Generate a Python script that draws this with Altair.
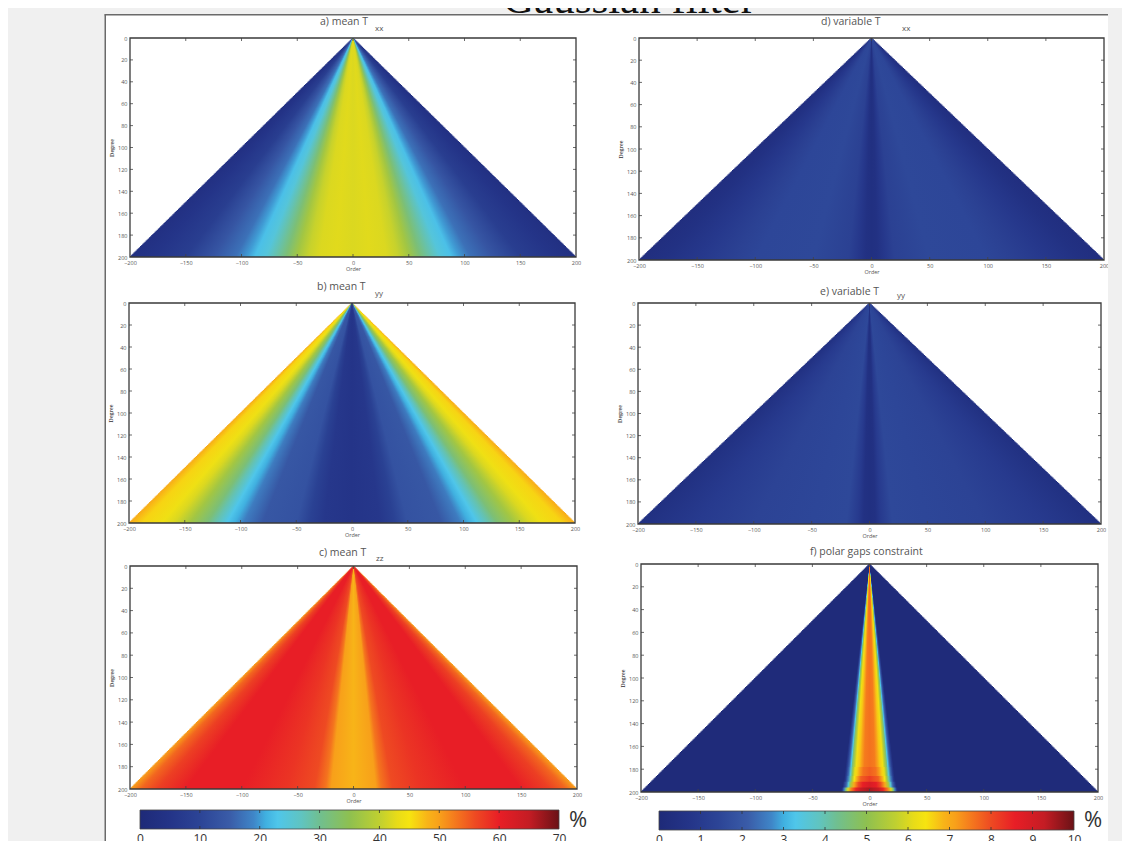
import altair as alt
import pandas as pd

# ---------- values ----------
X_TICKS = [-200, -150, -100, -50, 0, 50, 100, 150, 200]
Y_TICKS = list(range(0, 201, 20))
DEGREES = list(range(200))

# colour bar: value (on 0-70 bar) -> colour
CB_VALUES = [0, 5, 10, 15, 19, 21, 23, 27, 30, 35, 40, 43, 45, 48, 50, 53, 56, 60, 65, 70]
CB_COLORS = ["#1e2a78", "#243488", "#2c4496", "#3a5ca8", "#3f86c8", "#40b0e0", "#4fc6ea", "#60c4c0",
             "#70bf90", "#8ec050", "#c0d030", "#e8dc18", "#f6e410", "#f8b418", "#f8a01a", "#f4741e",
             "#ee4a22", "#e81e26", "#c41c24", "#6a1216"]

# profiles: |order| at degree 200 -> value in %
A_ORD = [0, 15, 30, 40, 50, 60, 70, 78, 88, 95, 105, 125, 150, 180, 200]
A_VAL = [42, 42.5, 42, 40.5, 37, 32, 28, 24.5, 22.5, 20, 17, 13.5, 8, 5, 3]
B_ORD = [0, 25, 38, 50, 80, 97, 105, 112, 122, 130, 145, 160, 170, 188, 200]
B_VAL = [5, 6, 9, 13, 14, 18, 21, 23, 28, 32, 37, 42, 44, 46, 49]
C_ORD = [0, 10, 20, 25, 35, 60, 100, 150, 175, 190, 200]
C_VAL = [48, 49, 50, 53, 56, 58, 60, 60, 57, 54, 50]
D_ORD = [0, 5, 12, 20, 50, 100, 120, 150, 180, 200]
D_VAL = [0.4, 0.5, 0.9, 1.3, 1.55, 1.5, 1.3, 0.9, 0.5, 0.3]
E_ORD = [0, 5, 10, 20, 50, 100, 150, 200]
E_VAL = [0.4, 0.5, 1.0, 1.55, 1.5, 1.4, 1.0, 0.4]
F_ORD = [0, 5, 8, 10, 13, 15, 17, 18, 20, 22, 23.5, 200]
F_VAL = [7.6, 7.5, 7.1, 6.7, 6.3, 5.5, 4.5, 3.3, 2.2, 1.0, 0.1, 0.1]
F0_ORD = [0, 6, 9, 12, 14, 16, 18, 20, 22, 23.5, 200]
F0_VAL = [7.8, 7.6, 7.2, 6.6, 6.2, 5.2, 3.6, 2.3, 1.0, 0.1, 0.1]
F1_ORD = [0, 8, 11, 14, 16, 18, 20, 22, 23.5, 200]
F1_VAL = [8.2, 7.8, 7.2, 6.4, 5.4, 4.0, 2.5, 1.0, 0.1, 0.1]
F2_ORD = [0, 6, 10, 14, 17, 19, 21, 23, 24, 200]
F2_VAL = [8.9, 8.6, 8.0, 7.0, 5.4, 3.6, 2.2, 1.0, 0.1, 0.1]
F3_ORD = [0, 8, 12, 16, 19, 21, 22.5, 24, 25, 200]
F3_VAL = [9.5, 9.2, 8.5, 7.5, 6.0, 4.5, 2.5, 0.8, 0.1, 0.1]

BAR1_TICKS = [0, 10, 20, 30, 40, 50, 60, 70]
BAR2_TICKS = list(range(0, 11))

# ---------- helpers ----------
OX, OY = 8, 8
W, H = 1114, 833
GREY = "#f0f0f0"
DARK = "#444444"
TXT = "#555555"
one = pd.DataFrame({"a": [0]})


def hex2rgb(c):
    return [int(c[i:i + 2], 16) for i in (1, 3, 5)]


def colour(v):
    v = max(CB_VALUES[0], min(CB_VALUES[-1], v))
    for i in range(len(CB_VALUES) - 1):
        if v <= CB_VALUES[i + 1]:
            t = (v - CB_VALUES[i]) / (CB_VALUES[i + 1] - CB_VALUES[i])
            a, b = hex2rgb(CB_COLORS[i]), hex2rgb(CB_COLORS[i + 1])
            return "#%02x%02x%02x" % tuple(round(p + (q - p) * t) for p, q in zip(a, b))
    return CB_COLORS[-1]


def gradient(orders, values, k):
    pairs = [(-o, v) for o, v in zip(orders, values) if o > 0][::-1] + list(zip(orders, values))
    stops = [alt.GradientStop(offset=(o + 200) / 400, color=colour(v * k)) for o, v in pairs]
    return alt.Gradient(gradient="linear", stops=stops, x1=0, x2=1, y1=0, y2=0)


def text(s, x, y, size, color=TXT, font="Open Sans", align="left", **kw):
    return alt.Chart(pd.DataFrame({"t": [s]})).mark_text(
        font=font, fontSize=size, color=color, align=align, baseline="middle", **kw
    ).encode(x=alt.value(x - OX), y=alt.value(y - OY), text="t:N")


def panel(x0, x1, y0, y1, profiles, k, labels):
    x0p, x1p, y0p, y1p = x0 - OX, x1 - OX, y0 - OY, y1 - OY
    xs = alt.Scale(domain=[-200, 200], range=[x0p, x1p], nice=False, zero=False)
    ys = alt.Scale(domain=[0, 200], range=[y0p, y1p], nice=False, zero=False)
    out = []
    for n, (lo, hi, orders, values) in enumerate(profiles):
        rows = pd.DataFrame({"l": [d for d in DEGREES if lo <= d < hi]})
        rows["x1"] = -(rows["l"] + 1)
        rows["x2"] = rows["l"] + 1
        rows["y2"] = (rows["l"] + 3).clip(upper=200)
        xax = alt.Axis(orient="bottom", offset=y1p - H, values=X_TICKS, ticks=False, domain=False, grid=False,
                       labelFont="Open Sans", labelFontSize=5.5, labelColor=TXT, labelPadding=3, labelFlush=False,
                       title="Order", titleFont="Open Sans", titleFontSize=5.5, titleColor=TXT, titleFontWeight="normal",
                       titlePadding=1) if n == 0 else None
        yax = alt.Axis(orient="left", offset=-x0p, values=Y_TICKS, ticks=False, domain=False, grid=False,
                       labelFont="Open Sans", labelFontSize=5.5, labelColor=TXT, labelPadding=3,
                       title="Degree", titleFont="Liberation Serif", titleFontSize=6, titleColor=TXT,
                       titleFontWeight="bold", titlePadding=3) if n == 0 else None
        out.append(alt.Chart(rows).mark_rect(color=gradient(orders, values, k)).encode(
            x=alt.X("x1:Q", scale=xs, axis=xax), x2="x2:Q",
            y=alt.Y("l:Q", scale=ys, axis=yax), y2="y2:Q"))
    xt = pd.DataFrame({"v": X_TICKS[1:-1]})
    yt = pd.DataFrame({"v": Y_TICKS[1:-1]})
    rule = dict(color=DARK, strokeWidth=0.8)
    xe = alt.X("v:Q", scale=xs, axis=None)
    ye = alt.Y("v:Q", scale=ys, axis=None)
    out += [
        alt.Chart(xt).mark_rule(**rule).encode(x=xe, y=alt.value(y0p), y2=alt.value(y0p + 3)),
        alt.Chart(xt).mark_rule(**rule).encode(x=xe, y=alt.value(y1p - 3), y2=alt.value(y1p)),
        alt.Chart(yt).mark_rule(**rule).encode(y=ye, x=alt.value(x0p), x2=alt.value(x0p + 3)),
        alt.Chart(yt).mark_rule(**rule).encode(y=ye, x=alt.value(x1p - 3), x2=alt.value(x1p)),
        alt.Chart(one).mark_rect(fillOpacity=0, stroke="#3a3a3a", strokeWidth=1.3).encode(
            x=alt.value(x0p), x2=alt.value(x1p), y=alt.value(y0p), y2=alt.value(y1p)),
    ]
    for s, x, y, size in labels:
        out.append(text(s, x, y, size))
    return out


def colourbar(x0, x1, y0, y1, top, ticks):
    x0p, x1p, y0p, y1p = x0 - OX, x1 - OX, y0 - OY, y1 - OY
    xs = alt.Scale(domain=[0, top], range=[x0p, x1p], nice=False, zero=False)
    grad = [alt.GradientStop(offset=v / 70, color=c) for v, c in zip(CB_VALUES, CB_COLORS)]
    bar = pd.DataFrame({"a": [0], "b": [top]})
    xax = alt.Axis(orient="bottom", offset=y1p - H, values=ticks, ticks=False, domain=False, grid=False,
                   labelFont="Open Sans", labelFontSize=12, labelColor="#333333", labelPadding=4,
                   labelFlush=False, labelOverlap=False, title=None, format="d")
    tk = pd.DataFrame({"v": ticks[1:-1]})
    te = alt.X("v:Q", scale=xs, axis=None)
    rule = dict(color="#333333", strokeWidth=0.8)
    return [
        alt.Chart(bar).mark_rect(color=alt.Gradient(gradient="linear", stops=grad, x1=0, x2=1, y1=0, y2=0),
                                 stroke="#444444", strokeWidth=0.8).encode(
            x=alt.X("a:Q", scale=xs, axis=xax), x2="b:Q", y=alt.value(y0p), y2=alt.value(y1p)),
        alt.Chart(tk).mark_rule(**rule).encode(x=te, y=alt.value(y0p), y2=alt.value(y0p + 3)),
        alt.Chart(tk).mark_rule(**rule).encode(x=te, y=alt.value(y1p - 3), y2=alt.value(y1p)),
    ]


# ---------- page furniture ----------
def block(x0, x1, y0, y1, fill):
    return alt.Chart(one).mark_rect(color=fill).encode(
        x=alt.value(x0), x2=alt.value(x1), y=alt.value(y0), y2=alt.value(y1))


layers = [
    block(0, 97, 0, H, GREY),
    block(1100, W, 0, H, GREY),
    block(97, 1100, 0, 7, GREY),
    block(96.5, 98, 6.5, H, "#6a6a6a"),
    block(96.5, 1100, 6, 7.5, "#6a6a6a"),
    text("Gaussian filter", 629, 0, 43, color="#111111", font="Liberation Serif", align="center"),
]

P70, P10 = 1, 7
layers += panel(130, 576, 38, 257, [(0, 200, A_ORD, A_VAL)], P70,
                [("a) mean T", 320, 22, 10.5), ("xx", 375, 29, 8)])
layers += panel(129, 575, 303, 523, [(0, 200, B_ORD, B_VAL)], P70,
                [("b) mean T", 317, 287, 10.5), ("yy", 375, 294, 8)])
layers += panel(130, 577, 566, 789, [(0, 200, C_ORD, C_VAL)], P70,
                [("c) mean T", 319, 553, 10.5), ("zz", 376, 559, 8)])
layers += panel(639, 1104, 38, 260, [(0, 200, D_ORD, D_VAL)], P10,
                [("d) variable T", 821, 22, 10.5), ("xx", 902, 29, 8)])
layers += panel(638, 1101, 303, 524, [(0, 200, E_ORD, E_VAL)], P10,
                [("e) variable T", 820, 292, 10.5), ("yy", 897, 296, 8)])
layers += panel(641, 1098, 564, 792,
                [(0, 178, F_ORD, F_VAL), (178, 186, F0_ORD, F0_VAL), (186, 191, F1_ORD, F1_VAL),
                 (191, 196, F2_ORD, F2_VAL), (196, 200, F3_ORD, F3_VAL)],
                P10, [("f) polar gaps constraint", 810, 552, 10.5)])

layers += colourbar(140, 559, 810, 829, 70, BAR1_TICKS)
layers += colourbar(659, 1074, 811, 830, 10, BAR2_TICKS)
layers += [text("%", 569, 820, 22, color="#333333"), text("%", 1084, 820, 22, color="#333333")]

chart = alt.layer(*layers).resolve_scale(x="independent", y="independent").properties(
    width=W, height=H, padding=0, autosize=alt.AutoSizeParams(type="none"), background="white"
).configure_view(stroke=None)

chart.save("out.html", embed_options={"renderer": "svg", "actions": False})
